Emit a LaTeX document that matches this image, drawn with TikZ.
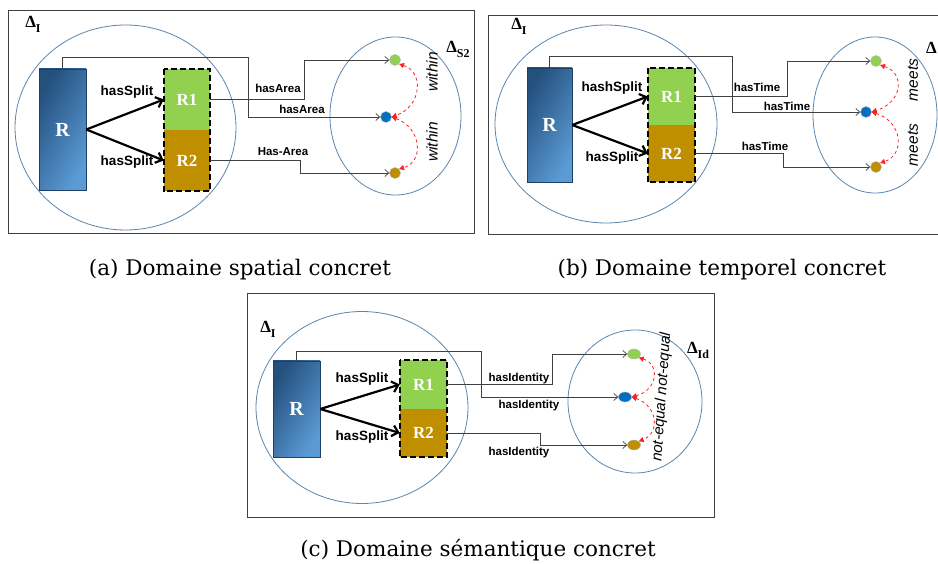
\documentclass[tikz,border=0pt]{standalone}
\usepackage{fontspec}
\setmainfont{DejaVu Serif}
\newfontfamily\labfont{Liberation Sans}
\newfontfamily\rfont{Liberation Serif}
\usetikzlibrary{arrows.meta,shapes.geometric}
\definecolor{frameCol}{HTML}{404040}
\definecolor{circCol}{HTML}{5A86B0}
\definecolor{rdark}{HTML}{24507E}
\definecolor{rlight}{HTML}{5B9BD5}
\definecolor{colGreen}{HTML}{92D050}
\definecolor{colBrown}{HTML}{BF8F00}
\definecolor{colBlue}{HTML}{0070C0}
\definecolor{colRed}{HTML}{FF2020}
\tikzset{
  panelframe/.style={draw=frameCol, line width=0.9pt},
  domcirc/.style={draw=circCol, line width=0.8pt},
  rbox/.style={draw=rdark!80!black, line width=0.5pt, left color=rdark, right color=rlight,
    shading angle=60,
    text=white, font=\rfont\bfseries\fontsize{20}{20}\selectfont, inner sep=0pt},
  subbox/.style={text=white, font=\rfont\bfseries\fontsize{17}{17}\selectfont, inner sep=0pt},
  box1/.style={subbox, fill=colGreen},
  box2/.style={subbox, fill=colBrown},
  dashbox/.style={draw=black, line width=2pt, dash pattern=on 6pt off 3pt},
  dot/.style={circle, minimum size=11pt, inner sep=0pt, draw=gray!60, line width=0.4pt},
  conn/.style={draw=black!75, line width=0.7pt, -{Straight Barb[length=4pt,width=7pt]}},
  split/.style={line width=2.2pt, -{Straight Barb[length=6pt,width=11pt]}},
  rel/.style={draw=colRed, dashed, line width=0.8pt,
    {Triangle[length=5pt,width=5pt]}-{Triangle[length=5pt,width=5pt]}},
  lab/.style={font=\labfont\bfseries\fontsize{11.5}{12}\selectfont, inner sep=1pt},
  splitlab/.style={font=\labfont\bfseries\fontsize{13.5}{14}\selectfont, inner sep=1pt},
  rellab/.style={font=\labfont\itshape\fontsize{15.5}{16}\selectfont, inner sep=0pt},
  delta/.style={font=\rfont\bfseries\fontsize{17}{17}\selectfont, inner sep=0pt},
  captext/.style={font=\fontsize{21.5}{24}\selectfont, inner sep=0pt},
}
\newcommand{\dsub}[1]{\raisebox{-0.3em}{\fontsize{12}{12}\selectfont #1}}
\begin{document}
\begin{tikzpicture}[x=1pt, y=-1pt]
\useasboundingbox[fill=white] (0,0) rectangle (938,564);

% ================= Panel (a) =================
\draw[panelframe] (8,10) rectangle (474,233);
\draw[domcirc] (125.5,127.5) ellipse [x radius=110.5pt, y radius=102.5pt];
\draw[domcirc] (395.5,116) ellipse [x radius=65.5pt, y radius=79pt];
\node[delta] (dIA) at (33,24) {Δ\dsub{I}};
\node[delta] (dSA) at (458,49) {Δ\dsub{S2}};
\node[rbox, minimum width=47pt, minimum height=121pt] (RA) at (62.5,129.5) {R};
\node[box1, minimum width=46pt, minimum height=61pt] (R1A) at (187,99.5) {R1};
\node[box2, minimum width=46pt, minimum height=61pt] (R2A) at (187,160.5) {R2};
\draw[dashbox] (R1A.north west) rectangle (R2A.south east);
\node[dot, fill=colGreen] (gA) at (395,60) {};
\node[dot, fill=colBlue] (bA) at (386,117) {};
\node[dot, fill=colBrown] (oA) at (395,173) {};
\draw[split] (RA.east) -- (R1A.west);
\draw[split] (RA.east) -- (R2A.west);
\node[splitlab] (sA1) at (127,92) {hasSplit};
\node[splitlab] (sA2) at (127,162) {hasSplit};
\draw[conn] (RA.north) |- (248,57) |- (bA);
\draw[conn] (R1A.east) -| (304,60) -- (gA);
\draw[conn] (R2A.east) -| (300,173) -- (oA);
\node[lab] (lA1) at (278,88) {hasArea};
\node[lab] (lA2) at (302,109) {hasArea};
\node[lab] (lA3) at (283,152) {Has-Area};
\draw[rel] (gA.south east) .. controls (424,72) and (422,106) .. (bA.east);
\draw[rel] (bA.east) .. controls (422,128) and (424,162) .. (oA.north east);
\node[rellab, rotate=90] (wA1) at (432,72) {within};
\node[rellab, rotate=90] (wA2) at (432,142) {within};

% ================= Panel (b) =================
\draw[panelframe] (488,15) rectangle (950,234);
\draw[domcirc] (606,124) ellipse [x radius=111pt, y radius=99pt];
\draw[domcirc] (875,115) ellipse [x radius=62pt, y radius=78pt];
\node[delta] (dIB) at (519,26) {Δ\dsub{I}};
\node[delta, anchor=west] (dTB) at (926,48) {Δ};
\node[rbox, minimum width=45pt, minimum height=114pt] (RB) at (549.5,125) {R};
\node[box1, minimum width=47pt, minimum height=57pt] (R1B) at (671.5,96.5) {R1};
\node[box2, minimum width=47pt, minimum height=57pt] (R2B) at (671.5,153.5) {R2};
\draw[dashbox] (R1B.north west) rectangle (R2B.south east);
\node[dot, fill=colGreen] (gB) at (876,61) {};
\node[dot, fill=colBlue] (bB) at (866,112) {};
\node[dot, fill=colBrown] (oB) at (876,167) {};
\draw[split] (RB.east) -- (R1B.west);
\draw[split] (RB.east) -- (R2B.west);
\node[splitlab] (sB1) at (612,88) {hashSplit};
\node[splitlab] (sB2) at (612,158) {hasSplit};
\draw[conn] (RB.north) |- (732,56) |- (bB);
\draw[conn] (R1B.east) -| (787,61) -- (gB);
\draw[conn] (R2B.east) -| (783,167) -- (oB);
\node[lab] (lB1) at (757,87) {hasTime};
\node[lab] (lB2) at (787,106) {hasTime};
\node[lab] (lB3) at (765,146) {hasTime};
\draw[rel] (gB.south east) .. controls (905,73) and (903,102) .. (bB.east);
\draw[rel] (bB.east) .. controls (903,122) and (905,155) .. (oB.north east);
\node[rellab, rotate=90] (mB1) at (913,80) {meets};
\node[rellab, rotate=90] (mB2) at (913,145) {meets};

% ================= Panel (c) =================
\draw[panelframe] (247,293) rectangle (714,517);
\draw[domcirc] (362,407.5) ellipse [x radius=106pt, y radius=96pt];
\draw[domcirc] (635,401.5) ellipse [x radius=67pt, y radius=71.5pt];
\node[delta] (dIC) at (268,329) {Δ\dsub{I}};
\node[delta] (dIdC) at (698,350) {Δ\dsub{Id}};
\node[rbox, minimum width=47pt, minimum height=96pt] (RC) at (296.5,409) {R};
\node[box1, minimum width=47pt, minimum height=49pt] (R1C) at (423.5,384.5) {R1};
\node[box2, minimum width=47pt, minimum height=48pt] (R2C) at (423.5,433) {R2};
\draw[dashbox] (R1C.north west) rectangle (R2C.south east);
\node[dot, fill=colGreen, ellipse, minimum width=13pt, minimum height=10pt] (gC) at (634,354) {};
\node[dot, fill=colBlue, ellipse, minimum width=13pt, minimum height=10pt] (bC) at (625,397) {};
\node[dot, fill=colBrown, ellipse, minimum width=13pt, minimum height=10pt] (oC) at (634,445) {};
\draw[split] (RC.east) -- (R1C.west);
\draw[split] (RC.east) -- (R2C.west);
\node[splitlab] (sC1) at (362,379) {hasSplit};
\node[splitlab] (sC2) at (362,437) {hasSplit};
\draw[conn] (RC.north) |- (481,351) |- (bC);
\draw[conn] (R1C.east) -| (552,354) -- (gC);
\draw[conn] (R2C.east) -| (540,445) -- (oC);
\node[lab] (lC1) at (519,379) {hasIdentity};
\node[lab] (lC2) at (529,406) {hasIdentity};
\node[lab] (lC3) at (519,453) {hasIdentity};
\draw[rel] (gC.south east) .. controls (660,364) and (658,390) .. (bC.east);
\draw[rel] (bC.east) .. controls (658,406) and (660,433) .. (oC.north east);
\node[rellab, rotate=86, font=\labfont\itshape\fontsize{15}{15}\selectfont] (nC) at (662,397) {not-equal not-equal};

% ================= Captions =================
\node[captext] (capA) at (240,270) {(a) Domaine spatial concret};
\node[captext] (capB) at (722,270) {(b) Domaine temporel concret};
\node[captext] (capC) at (478,550) {(c) Domaine sémantique concret};
\end{tikzpicture}
\end{document}
